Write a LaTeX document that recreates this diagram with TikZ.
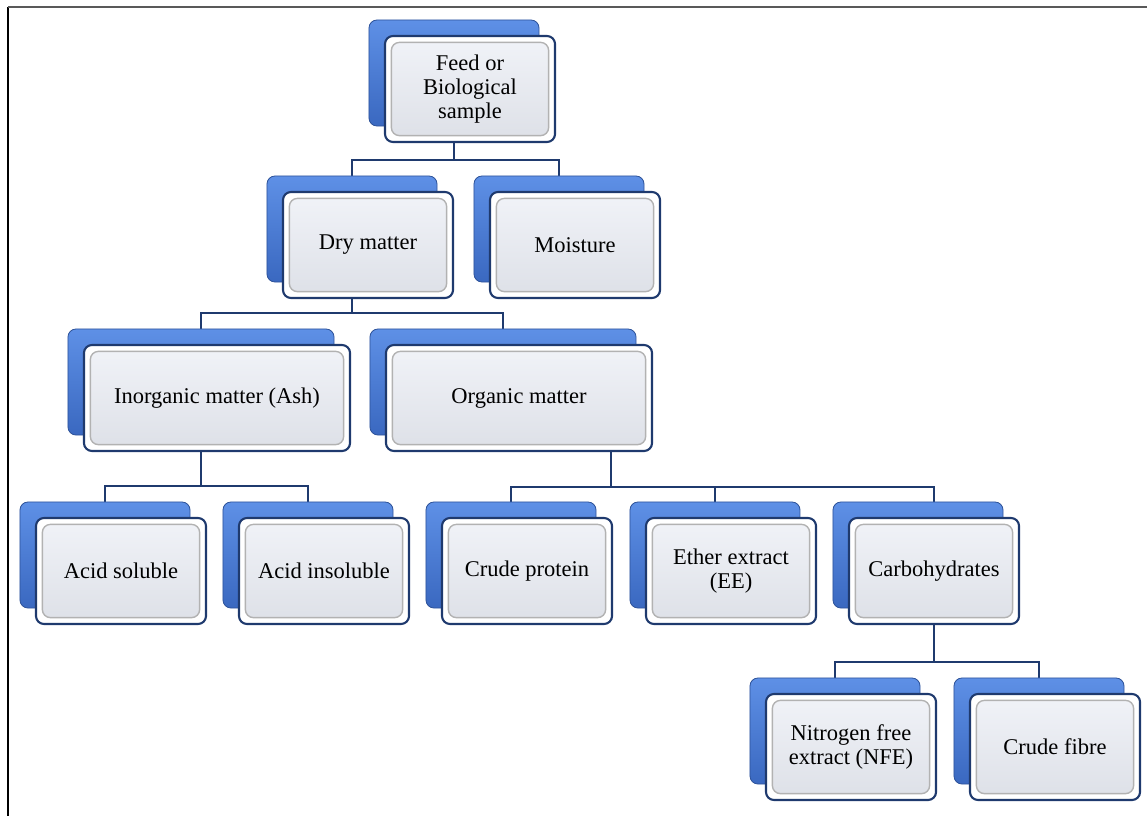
\documentclass[tikz,border=0pt]{standalone}
\usepackage{fontspec}
\setmainfont{Liberation Serif}
\usetikzlibrary{calc}
\pgfdeclarelayer{background}
\pgfsetlayers{background,main}
\definecolor{navy}{HTML}{1F3A6E}
\definecolor{boxblue}{HTML}{5E90E6}
\definecolor{boxdark}{HTML}{3A68C0}
\definecolor{facetop}{HTML}{F1F3F8}
\definecolor{facebot}{HTML}{DDE0E7}
\tikzset{
	shadebox/.style={rounded corners=2mm, minimum width=4.25cm, minimum height=2.65cm,
		top color=boxblue, bottom color=boxdark, draw=boxdark!80!black, line width=0.6pt},
	facebox/.style={rounded corners=2mm, minimum width=4.25cm, minimum height=2.65cm,
		fill=white, draw=navy, line width=1.5pt, align=center,
		font=\fontsize{16}{17}\selectfont,
		path picture={\draw[gray!60, line width=1pt, top color=facetop, bottom color=facebot]
			([shift={(1.6mm,1.6mm)}]path picture bounding box.south west) rectangle
			([shift={(-1.6mm,-1.6mm)}]path picture bounding box.north east);}},
	widebox/.style={minimum width=6.65cm},
	link/.style={draw=navy, line width=2.1pt}
}
\begin{document}
\begin{tikzpicture}[x=0.025cm, y=-0.025cm]
				\useasboundingbox (0,0) rectangle (1147,816);
				\draw[black, line width=1.3pt] (8,816) -- (8,7);
				\draw[gray!70!black, line width=1.3pt] (8,7) -- (1147,7);
				% back boxes
				\node[shadebox] (feedb) at (454,73) {};
				\node[shadebox] (dryb) at (352,229) {};
				\node[shadebox] (moistb) at (559,229) {};
				\node[shadebox, widebox] (inorgb) at (201,382) {};
				\node[shadebox, widebox] (orgb) at (503,382) {};
				\node[shadebox] (acidsb) at (105,555) {};
				\node[shadebox] (acidib) at (308,555) {};
				\node[shadebox] (protb) at (511,555) {};
				\node[shadebox] (etherb) at (715,555) {};
				\node[shadebox] (carbb) at (918,555) {};
				\node[shadebox] (nfeb) at (835,731) {};
				\node[shadebox] (fibreb) at (1039,731) {};
				% front boxes
				\node[facebox] (feed) at (470,89) {Feed or\\Biological\\sample};
				\node[facebox] (dry) at (368,245) {Dry matter};
				\node[facebox] (moist) at (575,245) {Moisture};
				\node[facebox, widebox] (inorg) at (217,398) {Inorganic matter (Ash)};
				\node[facebox, widebox] (org) at (519,398) {Organic matter};
				\node[facebox] (acids) at (121,571) {Acid soluble};
				\node[facebox] (acidi) at (324,571) {Acid insoluble};
				\node[facebox] (prot) at (527,571) {Crude protein};
				\node[facebox] (ether) at (731,571) {Ether extract\\(EE)};
				\node[facebox] (carb) at (934,571) {Carbohydrates};
				\node[facebox] (nfe) at (851,747) {Nitrogen free\\extract (NFE)};
				\node[facebox] (fibre) at (1055,747) {Crude fibre};
				\coordinate (orgdown) at ($(org.center)+(92,0)$);
				\begin{pgfonlayer}{background}
				\draw[link] (feedb) -- (feedb |- 0,160);
				\draw[link] (dryb) |- (moistb |- 0,160) -- (moistb);
				\draw[link] (dryb) -- (dryb |- 0,313);
				\draw[link] (inorgb) |- (orgb |- 0,313) -- (orgb);
				\draw[link] (inorgb) -- (inorgb |- 0,486);
				\draw[link] (acidsb) |- (acidib |- 0,486) -- (acidib);
				\draw[link] (orgdown) -- (orgdown |- 0,487);
				\draw[link] (protb) |- (carb |- 0,487) -- (carb);
				\draw[link] (etherb) -- (etherb |- 0,487);
				\draw[link] (carb) -- (carb |- 0,662);
				\draw[link] (nfeb) |- (fibreb |- 0,662) -- (fibreb);
				\end{pgfonlayer}
			\end{tikzpicture}
\end{document}
